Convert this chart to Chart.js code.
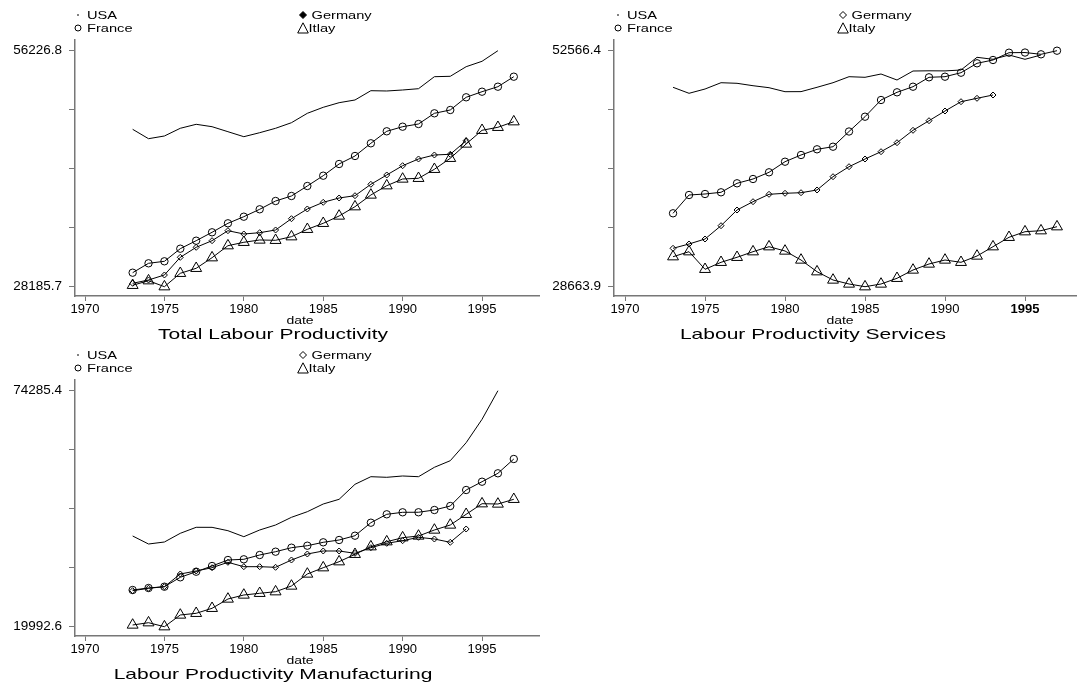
<!DOCTYPE html>
<html>
<head>
<meta charset="utf-8">
<script src="https://cdn.jsdelivr.net/npm/chart.js@4.4.1/dist/chart.umd.min.js"></script>
<style>
  body { margin: 0; background: #fff; }
  #wrap { position: relative; width: 1077px; height: 689px; overflow: hidden; }
  canvas { position: absolute; }
</style>
</head>
<body>
<div id="wrap">
  <canvas id="total" style="left:0;top:0"></canvas>
  <canvas id="services" style="left:540px;top:0"></canvas>
  <canvas id="manuf" style="left:0;top:340px"></canvas>
</div>
<script>
const FONT = '"Liberation Sans", Arial, Helvetica, sans-serif';

const years = [1973, 1974, 1975, 1976, 1977, 1978, 1979, 1980, 1981, 1982, 1983, 1984, 1985,
               1986, 1987, 1988, 1989, 1990, 1991, 1992, 1993, 1994, 1995, 1996, 1997];
const xTicks = [1970, 1975, 1980, 1985, 1990, 1995];

// Total labour productivity
const totUSA = [46888, 45771, 46092, 47007, 47482, 47197, 46603, 46009, 46484, 47007, 47672, 48789,
                49502, 50049, 50370, 51475, 51439, 51558, 51712, 53138, 53185, 54326, 54968, 56226.8];
const totFrance = [29849, 30966, 31204, 32701, 33652, 34650, 35719, 36503, 37383, 38369, 38963, 40151,
                   41375, 42765, 43716, 45225, 46651, 47197, 47518, 48789, 49181, 50691, 51356, 51950, 53138];
const totGermany = [28590, 28982, 29576, 31679, 32867, 33652, 34840, 34448, 34602, 34923, 36266, 37418,
                    38214, 38725, 38999, 40353, 41458, 42563, 43359, 43835, 43918, 45534];
const totItaly = [28352, 28899, 28185.7, 29778, 30372, 31632, 33058, 33462, 33735, 33700, 34127, 35006,
                  35719, 36587, 37692, 39082, 40187, 40983, 41066, 42136, 43442, 45142, 46770, 47126, 47791];

// Labour productivity services
const srvUSA = [48859, 48252, 48687, 49325, 49264, 49021, 48819, 48414, 48420, 48859, 49325, 49933,
                49872, 50206, 49598, 50510, 50530, 50520, 50611, 51898, 51695, 52131, 51695, 52131];
const srvFrance = [36098, 37951, 38053, 38225, 39136, 39572, 40250, 41324, 42003, 42580, 42843, 44383,
                   45882, 47573, 48353, 48920, 49872, 49933, 50338, 51290, 51624, 52364, 52380, 52201, 52566.4];
const srvGermany = [32553, 32989, 33495, 34842, 36432, 37273, 38022, 38124, 38184, 38458, 39805, 40818,
                    41597, 42337, 43248, 44504, 45476, 46459, 47401, 47745, 48079];
const srvItaly = [31702, 32209, 30426, 31135, 31642, 32209, 32715, 32280, 31368, 30183, 29343, 28937,
                  28663.9, 28937, 29515, 30355, 30963, 31368, 31135, 31773, 32715, 33667, 34234, 34336, 34741];

// Labour productivity manufacturing
const manUSA = [40859, 39018, 39478, 41480, 42860, 42850, 42078, 40698, 42239, 43389, 45160, 46449,
                48220, 49301, 52752, 54501, 54362, 54662, 54501, 56663, 58181, 62322, 67705, 74285.4];
const manFrance = [28436, 28896, 29195, 31357, 32646, 33957, 35337, 35498, 36488, 37247, 38167, 38627,
                   39409, 39938, 40928, 43918, 45851, 46311, 46320, 46840, 47760, 51441, 53350, 55283, 58572];
const manGermany = [28275, 28827, 29195, 32117, 32807, 33566, 34808, 33796, 33800, 33658, 35337, 36718,
                    37408, 37410, 36879, 38167, 39179, 39777, 40559, 40168, 39409, 42469];
const manItaly = [20384, 20913, 19992.6, 22685, 23076, 24226, 26365, 27286, 27677, 28045, 29356, 32117,
                  33566, 34946, 36649, 38397, 39547, 40467, 40859, 42239, 43389, 45851, 48289, 48220, 49301];

const pts = vals => vals.map((v, i) => ({ x: years[i], y: v }));

const markers = {
  usa: { pointRadius: 0 },
  france: { pointStyle: 'circle', pointRadius: 3.7 },
  germany: { pointStyle: 'rectRot', pointRadius: 3 },
  italy: { pointStyle: 'triangle', pointRadius: 6.3 }
};

function series(label, vals, kind) {
  return Object.assign({
    label: label,
    data: pts(vals),
    borderColor: '#000',
    borderWidth: 1,
    pointBorderColor: '#000',
    pointBorderWidth: 1,
    pointBackgroundColor: 'rgba(0,0,0,0)',
    pointHoverRadius: 0,
    tension: 0,
    fill: false
  }, markers[kind]);
}

// stretched text, the original has wide lettering
function wideText(ctx, text, x, y, size, stretch, align) {
  ctx.save();
  ctx.font = size + 'px ' + FONT;
  ctx.fillStyle = '#000';
  ctx.textAlign = align;
  ctx.textBaseline = 'alphabetic';
  ctx.translate(x, y);
  ctx.scale(stretch, 1);
  ctx.fillText(text, 0, 0);
  ctx.restore();
}

function drawMarker(ctx, kind, x, y, filled) {
  ctx.save();
  ctx.strokeStyle = '#000';
  ctx.fillStyle = '#000';
  ctx.lineWidth = 1;
  ctx.beginPath();
  if (kind === 'usa') {
    ctx.fillRect(x - 0.7, y - 0.7, 1.4, 1.4);
  } else if (kind === 'france') {
    ctx.arc(x, y, 3, 0, Math.PI * 2);
    ctx.stroke();
  } else if (kind === 'germany') {
    ctx.moveTo(x, y - 3.5); ctx.lineTo(x + 3.5, y); ctx.lineTo(x, y + 3.5); ctx.lineTo(x - 3.5, y);
    ctx.closePath();
    if (filled) ctx.fill();
    ctx.stroke();
  } else {
    ctx.moveTo(x, y - 5.2); ctx.lineTo(x + 5.3, y + 5); ctx.lineTo(x - 5.3, y + 5);
    ctx.closePath();
    ctx.stroke();
  }
  ctx.restore();
}

const stataText = {
  id: 'stataText',
  afterDraw(chart, args, opts) {
    const ctx = chart.ctx;
    opts.legend.forEach(it => {
      drawMarker(ctx, it.kind, it.mx, it.my, it.filled);
      wideText(ctx, it.text, it.tx, it.my + 3.9, 11, 1.33, 'left');
    });
    wideText(ctx, 'date', opts.dateX, 324, 10, 1.4, 'center');
    wideText(ctx, opts.title, opts.titleX, 339, 15, 1.4, 'center');
  }
};

function legendItems(italyName, filledGermany) {
  return [
    { kind: 'usa', text: 'USA', mx: 78, my: 15, tx: 87 },
    { kind: 'france', text: 'France', mx: 78, my: 28, tx: 87 },
    { kind: 'germany', text: 'Germany', mx: 303, my: 15, tx: 311.5, filled: filledGermany },
    { kind: 'italy', text: italyName, mx: 303, my: 28, tx: 308.5 }
  ];
}

function makeChart(id, w, h, cfg) {
  const canvas = document.getElementById(id);
  canvas.width = w; canvas.height = h;
  canvas.style.width = w + 'px'; canvas.style.height = h + 'px';

  const all = cfg.sets.flatMap(s => s[1]);
  const lo = Math.min(...all), hi = Math.max(...all);
  const span = hi - lo;
  const yTicks = [0, 1, 2, 3, 4].map(k => lo + span * k / 4);

  return new Chart(canvas.getContext('2d'), {
    type: 'line',
    data: {
      datasets: cfg.sets.map(s => series(s[0], s[1], s[2]))
    },
    plugins: [stataText],
    options: {
      responsive: false,
      animation: false,
      events: [],
      layout: { autoPadding: false, padding: { top: 40, bottom: h - 296 - 22, left: 0, right: 0 } },
      plugins: {
        legend: { display: false },
        tooltip: { enabled: false },
        stataText: {
          legend: legendItems(cfg.italyName, cfg.filledGermany),
          title: cfg.title,
          titleX: 273,
          dateX: 300
        }
      },
      scales: {
        x: {
          type: 'linear',
          min: cfg.xMin,
          max: cfg.xMax,
          afterBuildTicks: s => { s.ticks = xTicks.map(v => ({ value: v })); },
          afterFit: s => { s.height = 22; },
          ticks: {
            autoSkip: false,
            maxRotation: 0,
            padding: 1,
            color: '#000',
            font: c => ({ family: FONT, size: 13,
              weight: (cfg.boldTick && c.tick && c.tick.value === cfg.boldTick) ? 'bold' : 'normal' }),
            callback: v => String(v)
          },
          grid: { drawOnChartArea: false, tickLength: 5, color: '#777', lineWidth: 1 },
          border: { color: '#777', width: 1.5 }
        },
        y: {
          min: lo - span * 9.3 / 236,
          max: hi + span * 10.7 / 236,
          afterBuildTicks: s => { s.ticks = yTicks.map(v => ({ value: v })); },
          afterFit: s => { s.width = cfg.yWidth; },
          ticks: {
            padding: 7,
            color: '#000',
            font: { family: FONT, size: 13.5 },
            callback: (v, i) => (i === 0 || i === 4) ? v.toFixed(1) : ''
          },
          grid: { drawOnChartArea: false, tickLength: 6, color: '#777', lineWidth: 1 },
          border: { color: '#777', width: 1.5 }
        }
      }
    }
  });
}

makeChart('total', 540, 346, {
  title: 'Total Labour Productivity',
  italyName: 'Itlay',
  filledGermany: true,
  xMin: 1969.37, xMax: 1998.65, yWidth: 75,
  sets: [['USA', totUSA, 'usa'], ['France', totFrance, 'france'],
         ['Germany', totGermany, 'germany'], ['Itlay', totItaly, 'italy']]
});

makeChart('services', 537, 346, {
  title: 'Labour Productivity Services',
  italyName: 'Italy',
  filledGermany: false,
  boldTick: 1995,
  xMin: 1969.31, xMax: 1998.25, yWidth: 74,
  sets: [['USA', srvUSA, 'usa'], ['France', srvFrance, 'france'],
         ['Germany', srvGermany, 'germany'], ['Italy', srvItaly, 'italy']]
});

makeChart('manuf', 540, 349, {
  title: 'Labour Productivity Manufacturing',
  italyName: 'Italy',
  filledGermany: false,
  xMin: 1969.37, xMax: 1998.65, yWidth: 75,
  sets: [['USA', manUSA, 'usa'], ['France', manFrance, 'france'],
         ['Germany', manGermany, 'germany'], ['Italy', manItaly, 'italy']]
});
</script>
</body>
</html>
